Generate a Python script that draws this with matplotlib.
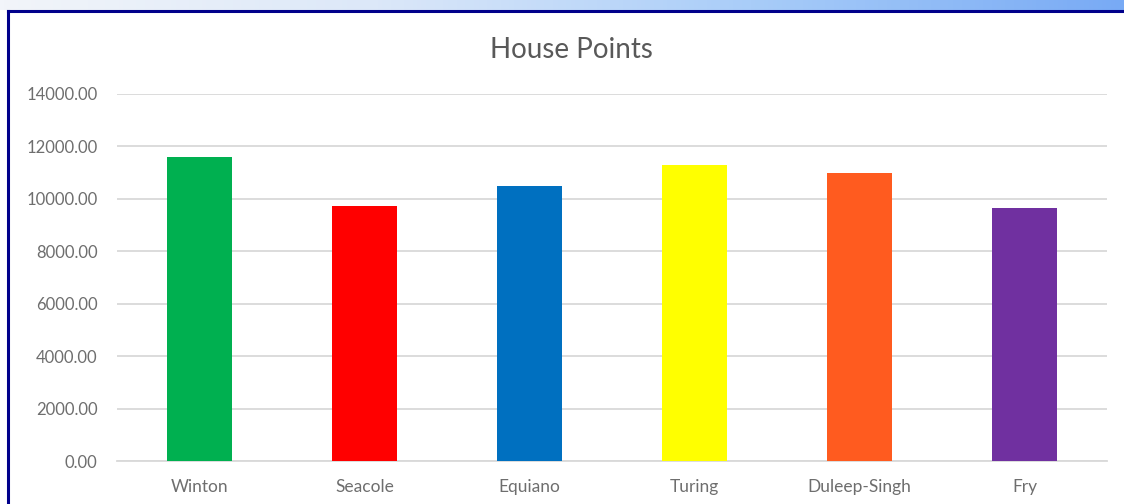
import numpy as np
import matplotlib
matplotlib.use("Agg")
import matplotlib.pyplot as plt
from matplotlib.colors import LinearSegmentedColormap
from matplotlib.lines import Line2D

houses = ["Winton", "Seacole", "Equiano", "Turing", "Duleep-Singh", "Fry"]
points = [11590, 9740, 10490, 11290, 10970, 9650]
colours = ["#00b050", "#ff0000", "#0070c0", "#ffff00", "#ff5b1f", "#7030a0"]
yticks = [0, 2000, 4000, 6000, 8000, 10000, 12000, 14000]

W, H = 1124, 504
fig = plt.figure(figsize=(W / 100, H / 100), dpi=100)
fig.patch.set_facecolor("white")

# gradient band above the frame
band = fig.add_axes([0, 1 - 10 / H, 1, 10 / H])
cmap = LinearSegmentedColormap.from_list("band", ["#f2f5fa", "#dce8f8", "#a9cdf8", "#78aaf5"])
band.imshow(np.linspace(0, 1, 256)[None, :], aspect="auto", cmap=cmap, extent=[0, 1, 0, 1])
band.set_axis_off()

# dark blue frame lines (top and left)
fig.add_artist(Line2D([8 / W, 1], [1 - 11 / H, 1 - 11 / H], color="#00008b", lw=2.2,
                      transform=fig.transFigure))
fig.add_artist(Line2D([8 / W, 8 / W], [0, 1 - 11 / H], color="#00008b", lw=2.2,
                      transform=fig.transFigure))

ax = fig.add_axes([117 / W, 1 - 461 / H, (1107 - 117) / W, (461 - 94) / H])
x = np.arange(len(houses))
ax.bar(x, points, width=0.39, color=colours, zorder=3)
ax.set_xlim(-0.5, len(houses) - 0.5)
ax.set_ylim(0, 14000)
ax.set_yticks(yticks)
ax.set_yticklabels([f"{v:.2f}" for v in yticks])
ax.set_xticks(x)
ax.set_xticklabels(houses)
ax.grid(axis="y", color="#d9d9d9", lw=1.3, zorder=0)
for s in ["top", "right", "left"]:
    ax.spines[s].set_visible(False)
ax.spines["bottom"].set_color("#d9d9d9")
ax.spines["bottom"].set_linewidth(1.3)
ax.tick_params(axis="y", length=0, colors="#6e6e6e", labelsize=12, pad=14)
ax.tick_params(axis="x", length=0, colors="#6e6e6e", labelsize=12.5, pad=13)
for lab in ax.get_xticklabels() + ax.get_yticklabels():
    lab.set_fontfamily("Lato")

fig.text(571 / W, 1 - 50 / H, "House Points", ha="center", va="center",
         fontsize=20, color="#595959", family="Lato")

fig.savefig("out.png", dpi=100)
